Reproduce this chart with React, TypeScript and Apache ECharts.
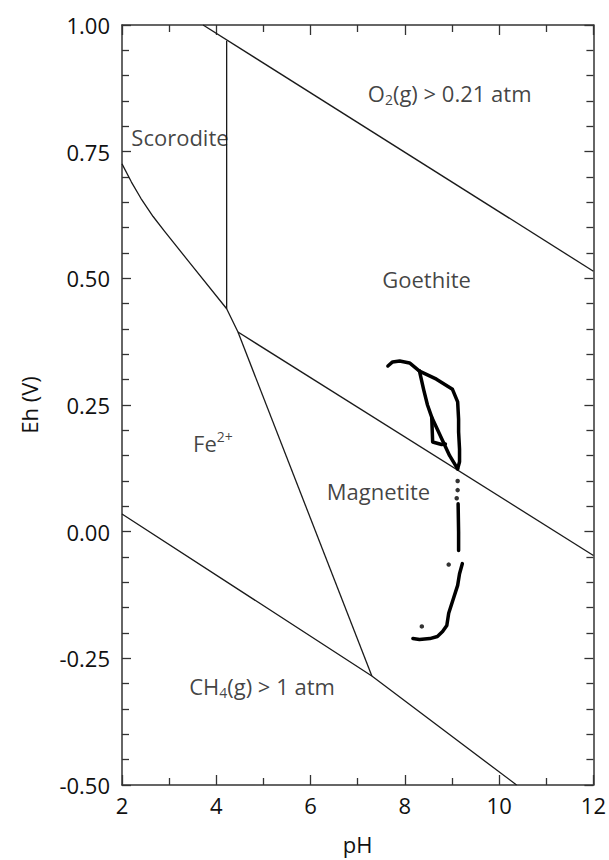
import React, { useEffect, useRef } from "react";
import * as echarts from "echarts";

// Phase boundaries (pH, Eh)
const o2Line = [[3.72, 1.0], [12, 0.514]];
const scoroditeLine = [[4.22, 0.969], [4.22, 0.44]];
const fe2UpperLine = [[2, 0.726], [2.2, 0.69], [2.4, 0.658], [2.66, 0.622], [2.9, 0.593], [3.4, 0.535], [4.22, 0.44], [4.46, 0.394]];
const goethiteMagnetiteLine = [[4.46, 0.394], [12, -0.047]];
const fe2MagnetiteLine = [[4.46, 0.394], [7.3, -0.285]];
const ch4Line = [[2, 0.035], [7.3, -0.285], [10.37, -0.5]];

// Measured data trace
const traceHook = [[7.64, 0.327], [7.74, 0.335], [7.89, 0.337], [8.1, 0.333], [8.31, 0.317]];
const traceOuter = [[8.31, 0.317], [8.67, 0.301], [9.01, 0.281], [9.12, 0.256], [9.14, 0.222], [9.14, 0.197], [9.16, 0.163], [9.16, 0.138], [9.12, 0.124]];
const traceInner = [[8.31, 0.317], [8.4, 0.28], [8.48, 0.25], [8.57, 0.226], [8.75, 0.19], [8.95, 0.15], [9.12, 0.124]];
const traceLoop = [[8.57, 0.226], [8.59, 0.177], [8.78, 0.172], [8.86, 0.173]];
const traceMiddle = [[9.13, 0.055], [9.14, 0.0], [9.14, -0.037]];
const traceLower = [[9.22, -0.063], [9.16, -0.083], [9.12, -0.106], [9.01, -0.138], [8.93, -0.161], [8.89, -0.185], [8.8, -0.197], [8.69, -0.207], [8.53, -0.211], [8.31, -0.213], [8.17, -0.211]];
const traceDots = [[9.12, 0.1], [9.12, 0.082], [9.1, 0.066], [8.93, -0.065], [8.36, -0.187]];

// Field labels
const fieldLabels = [
  { name: "O2", pos: [8.95, 0.866], text: "{n|O}{sub|2}{n|(g) > 0.21 atm}" },
  { name: "Scorodite", pos: [3.23, 0.778], text: "{n|Scorodite}" },
  { name: "Goethite", pos: [8.46, 0.498], text: "{n|Goethite}" },
  { name: "Fe2+", pos: [3.93, 0.175], text: "{n|Fe}{sup|2+}" },
  { name: "Magnetite", pos: [7.44, 0.081], text: "{n|Magnetite}" },
  { name: "CH4", pos: [4.97, -0.305], text: "{n|CH}{sub|4}{n|(g) > 1 atm}" },
];

const xTicks = [2, 4, 6, 8, 10, 12];
const yTicks = [-0.5, -0.25, 0, 0.25, 0.5, 0.75, 1.0];

const FONT = "Open Sans";
const INK = "#111";
const FS = 22;

export default function App() {
  const ref = useRef<HTMLDivElement>(null);
  useEffect(() => {
    if (!ref.current) return;
    const chart = echarts.init(ref.current, null, { renderer: "svg" });
    const boundary = (data: number[][]) => ({
      type: "line",
      data,
      symbol: "none",
      silent: true,
      lineStyle: { color: "#1a1a1a", width: 1.3, join: "round" },
      z: 2,
    });
    const trace = (data: number[][]) => ({
      type: "line",
      data,
      symbol: "none",
      silent: true,
      lineStyle: { color: "#000", width: 3.5, cap: "round", join: "round" },
      z: 3,
    });
    const axisLine = { show: true, onZero: false, lineStyle: { color: "#333", width: 1.5 } };
    const xCommon = {
      type: "value",
      min: xTicks[0],
      max: xTicks[xTicks.length - 1],
      interval: 2,
      splitLine: { show: false },
      axisLine,
      axisTick: { show: true, inside: true, length: 10, lineStyle: { color: "#333", width: 1.3 } },
      minorTick: { show: true, splitNumber: 2, length: 7, lineStyle: { color: "#333", width: 1.3 } },
    };
    const yCommon = {
      type: "value",
      min: yTicks[0],
      max: yTicks[yTicks.length - 1],
      interval: 0.25,
      splitLine: { show: false },
      axisLine,
      axisTick: { show: true, inside: true, length: 9, lineStyle: { color: "#333", width: 1.3 } },
      minorTick: { show: true, splitNumber: 5, length: 7, lineStyle: { color: "#333", width: 1.3 } },
    };
    chart.setOption({
      animation: false,
      grid: { left: 122, right: 15, top: 25, bottom: 73 },
      xAxis: [
        {
          ...xCommon,
          position: "bottom",
          name: "pH",
          nameLocation: "middle",
          nameGap: 48,
          nameTextStyle: { fontFamily: FONT, fontSize: FS, color: INK },
          axisLabel: { fontFamily: FONT, fontSize: FS, color: INK, margin: 9 },
        },
        { ...xCommon, position: "top", axisLabel: { show: false } },
      ],
      yAxis: [
        {
          ...yCommon,
          position: "left",
          name: "Eh (V)",
          nameLocation: "middle",
          nameGap: 82,
          nameRotate: 90,
          nameTextStyle: { fontFamily: FONT, fontSize: FS, color: INK },
          axisLabel: {
            fontFamily: FONT,
            fontSize: FS,
            color: INK,
            margin: 12,
            formatter: (v: number) => v.toFixed(2),
          },
        },
        { ...yCommon, position: "right", axisLabel: { show: false } },
      ],
      series: [
        boundary(o2Line),
        boundary(scoroditeLine),
        boundary(fe2UpperLine),
        boundary(goethiteMagnetiteLine),
        boundary(fe2MagnetiteLine),
        boundary(ch4Line),
        trace(traceHook),
        trace(traceOuter),
        trace(traceInner),
        trace(traceLoop),
        trace(traceMiddle),
        trace(traceLower),
        {
          type: "scatter",
          data: traceDots,
          symbolSize: 4.5,
          itemStyle: { color: "#000" },
          silent: true,
          z: 3,
        },
        {
          type: "scatter",
          data: fieldLabels.map((l) => ({ value: l.pos, name: l.name })),
          symbolSize: 0,
          silent: true,
          z: 4,
          label: {
            show: true,
            position: "inside",
            formatter: (p: any) => fieldLabels[p.dataIndex].text,
            rich: {
              n: { fontFamily: FONT, fontSize: FS, color: INK },
              sub: { fontFamily: FONT, fontSize: 14, color: INK, padding: [13, 0, 0, 0] },
              sup: { fontFamily: FONT, fontSize: 14, color: INK, padding: [0, 0, 13, 0] },
            },
          },
        },
      ],
    });
    return () => chart.dispose();
  }, []);
  return (
    <div
      ref={ref}
      style={{ position: "fixed", left: 0, top: 0, width: 609, height: 860, background: "#fff" }}
    />
  );
}
